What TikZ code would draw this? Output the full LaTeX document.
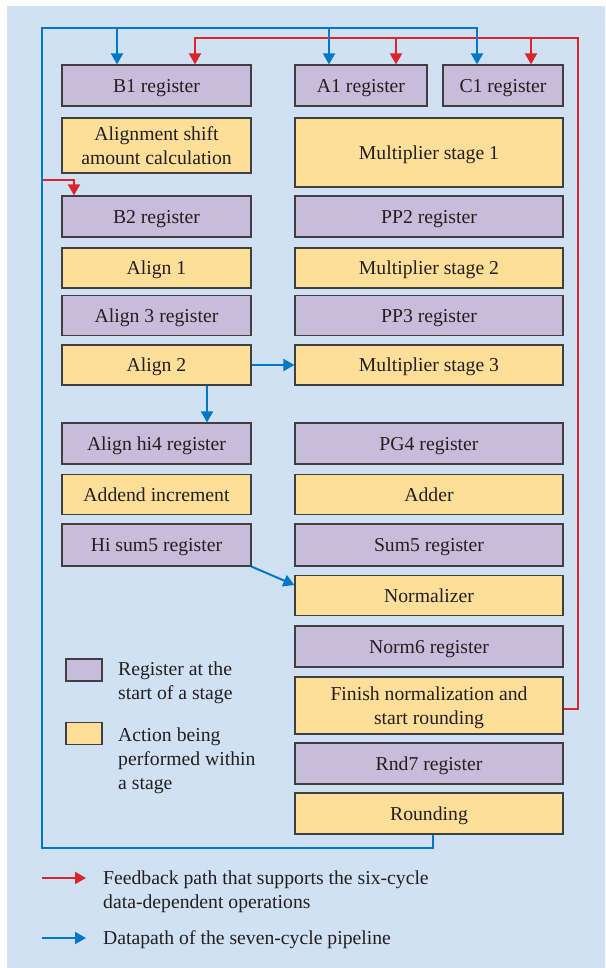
\documentclass[tikz,border=0pt]{standalone}
\usepackage{fontspec}
\setmainfont{Liberation Serif}
\usetikzlibrary{arrows.meta}
\usetikzlibrary{calc}

\definecolor{bgblue}{RGB}{207,225,242}
\definecolor{regfill}{RGB}{201,187,218}
\definecolor{actfill}{RGB}{254,223,153}
\definecolor{boxline}{RGB}{64,64,64}
\definecolor{pathblue}{RGB}{0,120,200}
\definecolor{pathred}{RGB}{218,37,45}
\definecolor{textgray}{RGB}{35,31,32}

\begin{document}
\begin{tikzpicture}[
      x = 1pt, y = -1pt,
      > = {Triangle[length = 11pt, width = 12pt]},
      every node/.style = {font = \fontsize{19.7}{24}\selectfont, text = textgray},
      stage/.style = {
        draw = boxline, line width = 1.2pt,
        inner sep = 0pt, align = center, text depth = 0pt
      },
      reg/.style = { stage, fill = regfill },
      act/.style = { stage, fill = actfill },
      datapath/.style = { draw = pathblue, line width = 2pt },
      feedback/.style = { draw = pathred, line width = 2pt },
    ]

    \useasboundingbox (0,0) rectangle (605,968);
    \fill[bgblue] (7,6) rectangle (605,968);

    % left column: B path
    \foreach \n/\y/\h/\s/\t in {b1/85.5/41/reg/B1 register,
        shift/145.5/55/act/{Alignment shift\\amount calculation},
        b2/216.5/41/reg/B2 register, align1/268/40/act/Align 1,
        align3/315.5/40/reg/Align 3 register, align2/365/40/act/Align 2,
        alignhi4/443.5/41/reg/Align hi4 register,
        addend/494.5/40/act/Addend increment,
        hisum5/545/42/reg/Hi sum5 register} {
      \node[\s, minimum width = 189pt, minimum height = \h pt] (\n) at (156.5,\y) {\t};
    }

    % right column: multiplier, adder, normalize, round
    \node[reg, minimum width = 132pt, minimum height = 41pt] (a1) at (361,85.5) {A1 register};
    \node[reg, minimum width = 120pt, minimum height = 41pt] (c1) at (503,85.5) {C1 register};
    \foreach \n/\y/\h/\s/\t in {mult1/152.5/69/act/Multiplier stage 1,
        pp2/216.5/41/reg/PP2 register, mult2/268/40/act/Multiplier stage 2,
        pp3/315.5/40/reg/PP3 register, mult3/365/40/act/Multiplier stage 3,
        pg4/443.5/41/reg/PG4 register, adder/494.5/40/act/Adder,
        sum5/545/42/reg/Sum5 register, norm/595.5/40/act/Normalizer,
        norm6/646.5/41/reg/Norm6 register,
        finish/705.5/57/act/{Finish normalization and\\start rounding},
        rnd7/763.5/41/reg/Rnd7 register, rounding/813.5/41/act/Rounding} {
      \node[\s, minimum width = 268pt, minimum height = \h pt] (\n) at (429,\y) {\t};
    }

    % feedback paths
    \coordinate (fbtr) at (578,38);
    \coordinate (fbleft) at (43,180);
    \draw[feedback, ->] ([yshift=-3.5pt]finish.east) -| (fbtr) -| ([xshift=38.5pt]b1.north);
    \draw[feedback, ->] ([xshift=35pt]a1.north |- fbtr) -- ([xshift=35pt]a1.north);
    \draw[feedback, ->] ([xshift=28pt]c1.north |- fbtr) -- ([xshift=28pt]c1.north);
    \draw[feedback, ->] (fbleft) -| ([xshift=-82.5pt]b2.north);

    % pipeline datapath
    \coordinate (loopbl) at (42,848);
    \coordinate (looptl) at (42,28);
    \draw[datapath, ->] ([xshift=4pt]rounding.south) |- (loopbl) -- (looptl) -| ([xshift=-26pt]c1.north);
    \draw[datapath, ->] ([xshift=-39.5pt]b1.north |- looptl) -- ([xshift=-39.5pt]b1.north);
    \draw[datapath, ->] ([xshift=-32pt]a1.north |- looptl) -- ([xshift=-32pt]a1.north);
    \draw[datapath, ->] (align2.east) -- (mult3.west);
    \draw[datapath, ->] ([xshift=50.5pt]align2.south) -- ([xshift=50.5pt]alignhi4.north);
    \draw[datapath, ->] (hisum5.south east) -- ([yshift=10.5pt]norm.west);

    % key
    \node[reg, minimum width = 36pt, minimum height = 22pt] (keyreg) at (84,670) {};
    \node[act, minimum width = 36pt, minimum height = 22pt] (keyact) at (84,733.5) {};
    \node[anchor = west, align = left, inner sep = 0pt] (keyregtext) at (118,683) {Register at the\\start of a stage};
    \node[anchor = west, align = left, inner sep = 0pt] (keyacttext) at (118,761) {Action being\\performed within\\a stage};

    \coordinate (fbkeya) at (42,878);
    \coordinate (fbkeyb) at (86,878);
    \coordinate (dpkeya) at (42,938);
    \coordinate (dpkeyb) at (86,938);
    \draw[feedback, ->] (fbkeya) -- (fbkeyb);
    \draw[datapath, ->] (dpkeya) -- (dpkeyb);
    \node[anchor = west, align = left, inner sep = 0pt] (fbtext) at (103,892) {Feedback path that supports the six-cycle\\data-dependent operations};
    \node[anchor = west, align = left, inner sep = 0pt] (dptext) at (103,939.5) {Datapath of the seven-cycle pipeline};
  \end{tikzpicture}
\end{document}
